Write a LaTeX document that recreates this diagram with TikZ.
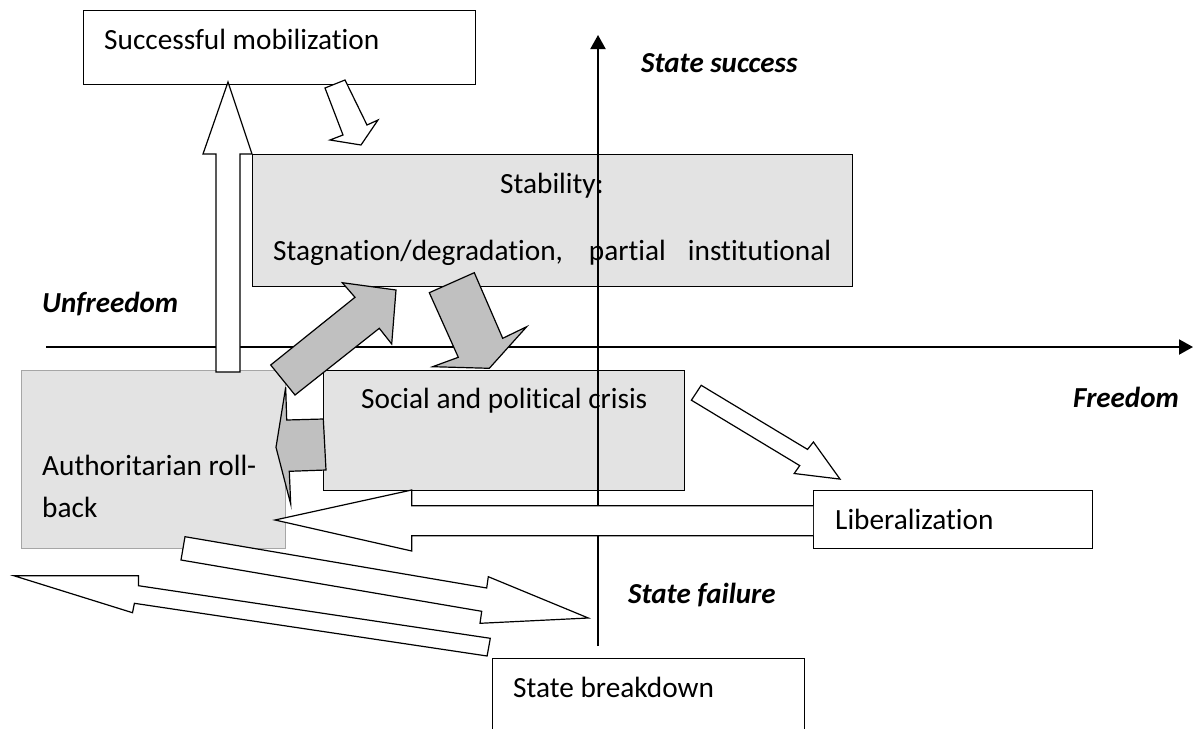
\documentclass[tikz,border=0pt]{standalone}
\usepackage{fontspec}
\setmainfont{Carlito}[Ligatures={NoCommon}]
\usetikzlibrary{arrows.meta}
\definecolor{boxgray}{HTML}{E3E3E3}
\definecolor{arrgray}{HTML}{C0C0C0}
\definecolor{authedge}{HTML}{A6A6A6}
\tikzset{
  box/.style={draw=black, line width=1.1pt, rectangle, inner sep=0pt, anchor=north west},
  graybox/.style={box, fill=boxgray},
  whitebox/.style={box, fill=white},
  lbl/.style={inner sep=0pt, anchor=base west, font=\fontsize{29.3}{35}\selectfont},
  axlbl/.style={inner sep=0pt, anchor=base west, font=\fontsize{29}{35}\selectfont\bfseries\itshape},
  axisline/.style={line width=2pt, -{Triangle[length=14pt,width=15pt]}},
  warrow/.style={draw=black, fill=white, line width=1.2pt, line join=miter},
  garrow/.style={draw=black, fill=arrgray, line width=1.2pt, line join=miter},
}
\begin{document}
\begin{tikzpicture}[x=1pt,y=-1pt]
\useasboundingbox (0,0) rectangle (1193,728);
\clip (0,0) rectangle (1193,728);
\fill[white] (0,0) rectangle (1193,728);

% boxes
\node[graybox, minimum width=600pt, minimum height=132pt] (stab) at (252,154) {};
\node[graybox, draw=authedge, minimum width=264pt, minimum height=178pt] (auth) at (21,370) {};
\node[graybox, minimum width=361pt, minimum height=120pt] (crisis) at (323,370) {};
\node[whitebox, minimum width=392pt, minimum height=74pt] (succ) at (83,10) {};
\node[whitebox, minimum width=279pt, minimum height=58pt] (lib) at (813,490) {};
\node[whitebox, minimum width=312pt, minimum height=110pt] (brk) at (492,658) {};

% box texts
\node[lbl] (tsucc) at (104,49) {Successful mobilization};
\node[lbl] (tstab) at (500,193) {Stability:};
\node[lbl] (tstag) at (273,260) {\makebox[558pt][s]{Stagnation/degradation, partial institutional}};
\node[lbl] (tcris) at (361,408) {Social and political crisis};
\node[lbl] (tauth1) at (42,475) {Authoritarian roll-};
\node[lbl] (tauth2) at (42,517) {back};
\node[lbl] (tlib) at (835,529) {Liberalization};
\node[lbl] (tbrk) at (513,697) {State breakdown};

% axes
\coordinate (hs) at (46,347);
\coordinate (he) at (1193,347);
\coordinate (vs) at (598,646);
\coordinate (ve) at (598,35);
\draw[axisline] (hs) -- (he);
\draw[axisline] (vs) -- (ve);

% axis labels
\node[axlbl] (lsucc) at (641,72) {State success};
\node[axlbl] (lunf) at (42,312) {Unfreedom};
\node[axlbl] (lfree) at (1073,407) {Freedom};
\node[axlbl] (lfail) at (628,603) {State failure};

% white up arrow: authoritarian -> successful mobilization
\draw[warrow] (216,372) -- (216,154) -- (203,154) -- (228,82) -- (252,154) -- (240,154) -- (240,372) -- cycle;

% small white arrow: successful mobilization -> stability
\draw[warrow] (325,88) -- (345,80) -- (367,125) -- (378,120) -- (361,145) -- (330,140) -- (343,135) -- cycle;

% gray arrow up-right: -> stability
\draw[garrow] (270.7,365) -- (355,297.3) -- (342.3,282.7) -- (396,290) -- (391.7,344) -- (379.3,328.3) -- (295,395) -- cycle;

% gray arrow down-right: stability -> crisis
\draw[garrow] (429.3,292.7) -- (474.3,272.7) -- (502.7,338.3) -- (526.7,326.7) -- (489.3,368.3) -- (432.7,366.7) -- (458.3,357.3) -- cycle;

% gray arrow left: crisis -> authoritarian
\draw[garrow] (286.7,420) -- (285.7,387.3) -- (276,447.3) -- (290.7,504) -- (289.3,471.3) -- (326,470) -- (323.3,419) -- cycle;

% white arrow: crisis -> liberalization
\draw[warrow] (691.4,400.2) -- (701.2,385.3) -- (807.5,449.4) -- (813.4,442) -- (840,479.1) -- (794.2,473.5) -- (799.7,465.6) -- cycle;

% big white arrow: liberalization -> authoritarian
\draw[warrow] (813,505.7) -- (411.7,505.7) -- (411.7,490) -- (275,520) -- (411.7,551) -- (411.7,535.7) -- (813,535.7);

% white arrow: authoritarian -> state failure
\draw[warrow] (185,536.7) -- (486.7,588) -- (488.3,576.7) -- (588.3,618) -- (480,623.3) -- (481.7,611.3) -- (181,560) -- cycle;

% white arrow: state breakdown -> far left
\draw[warrow] (13.8,575.7) -- (138.4,575.7) -- (138.4,585.7) -- (490.3,638.3) -- (487.1,656) -- (134.4,603.3) -- (132.5,612.7) -- cycle;

\end{tikzpicture}
\end{document}
